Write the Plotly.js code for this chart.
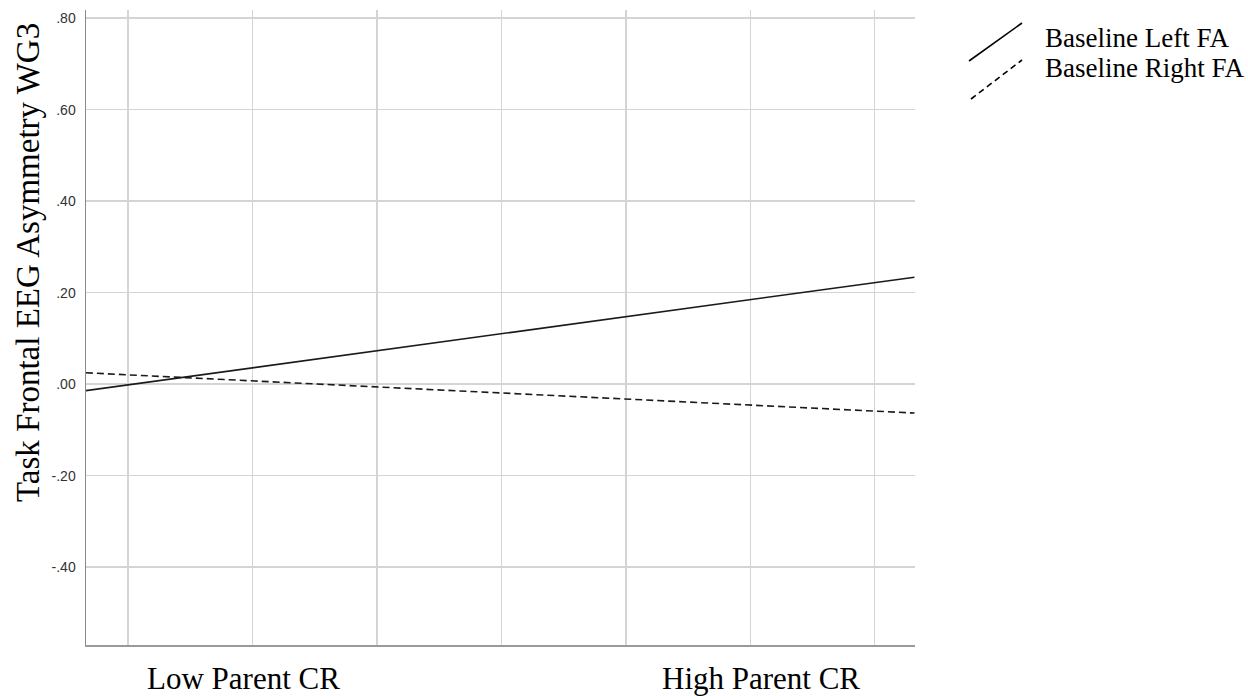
<!DOCTYPE html>
<html>
<head>
<meta charset="utf-8">
<script src="https://cdn.plot.ly/plotly-3.0.1.min.js"></script>
<style>html,body{margin:0;padding:0;background:#fff;}#chart{width:1248px;height:696px;}</style>
</head>
<body>
<div id="chart"></div>
<script>
// Data
const parentCR = [-0.34, 6.32];          // x extent of the simple-slope lines
const baselineLeftFA = [-0.014, 0.234];  // solid line
const baselineRightFA = [0.025, -0.063]; // dashed line
const seriesNames = ["Baseline Left FA", "Baseline Right FA"];
const xGridVals = [0, 1, 2, 3, 4, 5, 6];
const yTickVals = [-0.4, -0.2, 0, 0.2, 0.4, 0.6, 0.8];
const yTickText = ["-.40", "-.20", ".00", ".20", ".40", ".60", ".80"];
const xLabels = ["Low Parent CR", "High Parent CR"];
const yTitle = "Task Frontal EEG Asymmetry WG3";

const serif = "Liberation Serif, Times New Roman, serif";
const L = 86, R = 915, T = 10, B = 645, W = 1248, H = 696;
const px = x => (x - L) / (R - L);
const py = y => (B - y) / (B - T);

const traces = [
  {x: parentCR, y: baselineLeftFA, name: seriesNames[0], mode: "lines",
   line: {color: "#1a1a1a", width: 1.6}, hoverinfo: "skip"},
  {x: parentCR, y: baselineRightFA, name: seriesNames[1], mode: "lines",
   line: {color: "#1a1a1a", width: 1.6, dash: "7px,4px"}, hoverinfo: "skip"}
];

const layout = {
  width: W, height: H,
  margin: {l: L, r: W - R, t: T, b: H - B},
  paper_bgcolor: "#fff", plot_bgcolor: "#fff",
  showlegend: false,
  xaxis: {range: [-0.339, 6.324], tickvals: xGridVals, showticklabels: false,
          showgrid: true, gridcolor: "#d4d4d4", gridwidth: 1.5, zeroline: false,
          showline: true, linecolor: "#9a9a9a", linewidth: 1.5, ticks: ""},
  yaxis: {range: [-0.57, 0.818], tickvals: yTickVals, ticktext: yTickText,
          showgrid: true, gridcolor: "#d4d4d4", gridwidth: 1.5, zeroline: false,
          showline: true, linecolor: "#8a8a8a", linewidth: 1.5, ticks: "",
          ticklabelstandoff: 6,
          tickfont: {family: "Liberation Sans, Arial, sans-serif", size: 14, color: "#333"}},
  annotations: [
    {text: yTitle, xref: "paper", yref: "paper", x: px(28), y: py(263), textangle: -90,
     xanchor: "center", yanchor: "middle", showarrow: false,
     font: {family: serif, size: 33, color: "#000"}},
    {text: xLabels[0], xref: "paper", yref: "paper", x: px(145), y: py(678),
     xanchor: "left", yanchor: "middle", showarrow: false,
     font: {family: serif, size: 31, color: "#000"}},
    {text: xLabels[1], xref: "paper", yref: "paper", x: px(660), y: py(678),
     xanchor: "left", yanchor: "middle", showarrow: false,
     font: {family: serif, size: 31, color: "#000"}},
    {text: seriesNames[0], xref: "paper", yref: "paper", x: px(1043), y: py(38),
     xanchor: "left", yanchor: "middle", showarrow: false,
     font: {family: serif, size: 27, color: "#000"}},
    {text: seriesNames[1], xref: "paper", yref: "paper", x: px(1043), y: py(68),
     xanchor: "left", yanchor: "middle", showarrow: false,
     font: {family: serif, size: 27, color: "#000"}}
  ],
  shapes: [
    {type: "line", xref: "paper", yref: "paper", x0: px(969), y0: py(61), x1: px(1022), y1: py(23),
     line: {color: "#000", width: 1.6}},
    {type: "line", xref: "paper", yref: "paper", x0: px(971), y0: py(99), x1: px(1022), y1: py(60),
     line: {color: "#000", width: 1.6, dash: "6px,4px"}}
  ]
};

Plotly.newPlot("chart", traces, layout, {staticPlot: true, displayModeBar: false});
</script>
</body>
</html>
